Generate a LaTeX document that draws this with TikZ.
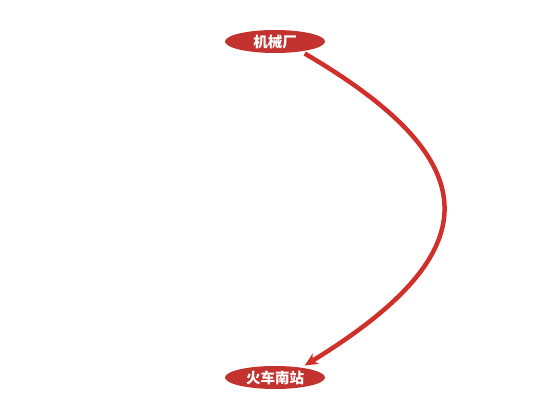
\documentclass[tikz,border=0pt]{standalone}
\usepackage{fontspec}
\newfontfamily\cjk{Noto Sans CJK SC}
\usetikzlibrary{arrows.meta,shapes.geometric}
\definecolor{nodered}{HTML}{C23330}
\definecolor{linered}{HTML}{D12F2A}
\begin{document}
\begin{tikzpicture}[x=1pt,y=-1pt,
  station/.style={ellipse,fill=nodered,draw=none,minimum width=100pt,minimum height=23pt,inner sep=0pt,outer sep=3pt,text=white,font=\cjk\bfseries\fontsize{14.5}{15}\selectfont},
  route/.style={draw=linered,line width=4.5pt,-{Stealth[length=13pt,width=12pt,inset=4pt]}}]
\useasboundingbox (0,0) rectangle (550,420);
\node[station] (a) at (275,41.5) {机械厂};
\node[station] (b) at (275,377.5) {火车南站};
\draw[route] (a.-22) .. controls (490,162) and (490,252) .. (b.22);
\end{tikzpicture}
\end{document}
